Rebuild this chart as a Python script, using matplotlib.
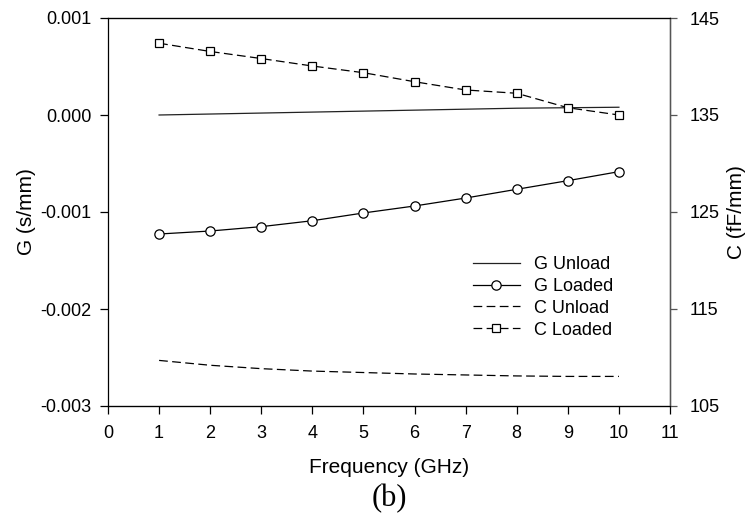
import matplotlib
matplotlib.use('Agg')
import matplotlib.pyplot as plt
from matplotlib.lines import Line2D

plt.rcParams['font.family'] = ['Liberation Sans', 'DejaVu Sans']

# ---- data ----
freq = [1, 2, 3, 4, 5, 6, 7, 8, 9, 10]
g_unload = [0.0, 0.00001, 0.00002, 0.00003, 0.00004, 0.00005, 0.00006, 0.00007, 0.000075, 0.00008]
g_loaded = [-0.001227, -0.001196, -0.001151, -0.001090, -0.001010,
            -0.000938, -0.000856, -0.000766, -0.000677, -0.000584]
c_unload = [109.7, 109.2, 108.85, 108.6, 108.45, 108.3, 108.2, 108.1, 108.05, 108.05]
c_loaded = [142.4, 141.55, 140.82, 140.05, 139.36, 138.43, 137.58, 137.24, 135.75, 135.0]

x_ticks = list(range(0, 12))
g_ticks = [0.001, 0.0, -0.001, -0.002, -0.003]
g_tick_labels = ['0.001', '0.000', '-0.001', '-0.002', '-0.003']
c_ticks = [145, 135, 125, 115, 105]

FS = 13
FS_LABEL = 15
DASH = (7, 3.5)

fig = plt.figure(figsize=(7.47, 5.22), dpi=100)
ax = fig.add_axes([108 / 747, 1 - 406 / 522, 562 / 747, 388 / 522])
ax2 = ax.twinx()

ax.plot(freq, g_unload, color='#222222', lw=0.9)
ax.plot(freq, g_loaded, color='black', lw=0.9, marker='o', ms=6.7,
        mfc='white', mec='black', mew=0.9)
ax2.plot(freq, c_unload, color='black', lw=0.9, dashes=DASH)
ax2.plot(freq, c_loaded, color='black', lw=0.9, dashes=DASH, marker='s', ms=5.2,
         mfc='white', mec='black', mew=0.9)

ax.set_xlim(0, 11)
ax.set_ylim(-0.003, 0.001)
ax2.set_ylim(105, 145)

ax.set_xticks(x_ticks)
ax.set_yticks(g_ticks)
ax.set_yticklabels(g_tick_labels)
ax2.set_yticks(c_ticks)

ax.tick_params(axis='x', direction='out', length=6, width=0.9, pad=8, labelsize=FS)
ax.tick_params(axis='y', direction='out', length=6, width=0.9, pad=6, labelsize=FS)
ax2.tick_params(axis='y', direction='out', length=5, width=0.9, pad=9, labelsize=FS,
                color='#555555')

for sp in ax.spines.values():
    sp.set_linewidth(0.9)
ax2.spines['right'].set_color('#555555')
ax2.spines['right'].set_linewidth(0.9)
ax2.spines['left'].set_visible(False)

ax.set_xlabel('Frequency (GHz)', fontsize=FS_LABEL, labelpad=11)
ax.set_ylabel('G (s/mm)', fontsize=FS_LABEL, labelpad=3)
ax2.set_ylabel('C (fF/mm)', fontsize=FS_LABEL, labelpad=5)

handles = [
    Line2D([], [], color='#222222', lw=0.9),
    Line2D([], [], color='black', lw=0.9, marker='o', ms=6.7, mfc='white', mec='black', mew=0.9),
    Line2D([], [], color='black', lw=0.9, dashes=DASH),
    Line2D([], [], color='black', lw=0.9, dashes=DASH, marker='s', ms=5.2,
           mfc='white', mec='black', mew=0.9),
]
labels = ['G Unload', 'G Loaded', 'C Unload', 'C Loaded']
ax2.legend(handles, labels, loc='upper left', bbox_to_anchor=(473 / 747, 1 - 256 / 522),
           bbox_transform=fig.transFigure, frameon=False, fontsize=FS,
           borderpad=0, borderaxespad=0, handlelength=2.6, handletextpad=0.8,
           labelspacing=0.27)

fig.text(389 / 747, 1 - 499 / 522, '(b)', ha='center', va='center', fontsize=22,
         family=['Liberation Serif', 'DejaVu Serif'])

fig.savefig('out.png', dpi=100)
